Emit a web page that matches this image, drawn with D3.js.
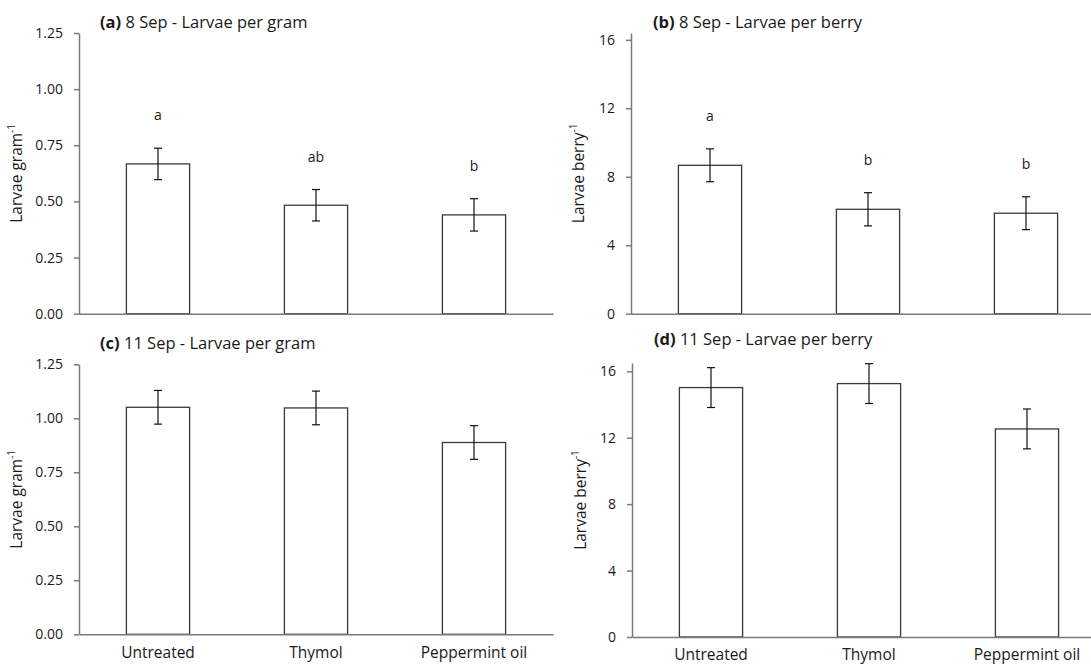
<!DOCTYPE html>
<html>
<head>
<meta charset="utf-8">
<script src="https://cdn.jsdelivr.net/npm/d3@7"></script>
<style>
  body { margin: 0; background: #fff; }
  text { font-family: "Open Sans", "Noto Sans", sans-serif; fill: #1a1a1a; }
</style>
</head>
<body>
<svg id="chart" width="1091" height="667"></svg>
<script>
const treatments = ['Untreated', 'Thymol', 'Peppermint oil'];

const gramTicks = [0, 0.25, 0.5, 0.75, 1.0, 1.25];
const berryTicks = [0, 4, 8, 12, 16];

// means and standard errors
const gram8Sep = [0.667, 0.483, 0.44];
const gram8SepSE = [0.07, 0.07, 0.072];
const berry8Sep = [8.67, 6.1, 5.87];
const berry8SepSE = [0.96, 0.97, 0.96];
const gram11Sep = [1.051, 1.048, 0.888];
const gram11SepSE = [0.078, 0.078, 0.078];
const berry11Sep = [15.02, 15.26, 12.53];
const berry11SepSE = [1.2, 1.2, 1.2];

const letters8SepGram = ['a', 'ab', 'b'];
const letters8SepBerry = ['a', 'b', 'b'];

const svg = d3.select('#chart');

function drawPanel(p) {
  const g = svg.append('g');

  const x = d3.scaleBand()
      .domain(treatments)
      .range([p.left, p.left + 474])
      .paddingInner(0.6)
      .paddingOuter(0.3);

  const y = d3.scaleLinear()
      .domain([0, p.max])
      .range([p.bottom, p.top]);

  // bars
  g.selectAll('rect.bar')
      .data(p.values)
      .join('rect')
      .attr('class', 'bar')
      .attr('x', (d, i) => x(treatments[i]))
      .attr('y', d => y(d))
      .attr('width', x.bandwidth())
      .attr('height', d => y(0) - y(d))
      .style('fill', 'white')
      .style('stroke', '#3a3a3a')
      .style('stroke-width', '1.3px');

  // error bars
  const cx = i => x(treatments[i]) + x.bandwidth() / 2;
  p.values.forEach((v, i) => {
      const se = p.se[i];
      g.append('line')
          .attr('x1', cx(i)).attr('x2', cx(i))
          .attr('y1', y(v + se)).attr('y2', y(v - se))
          .attr('stroke', '#111').attr('stroke-width', 1.2);
      [v + se, v - se].forEach(e => {
          g.append('line')
              .attr('x1', cx(i) - 4).attr('x2', cx(i) + 4)
              .attr('y1', y(e)).attr('y2', y(e))
              .attr('stroke', '#111').attr('stroke-width', 1.2);
      });
      if (p.letters) {
          g.append('text')
              .attr('x', cx(i))
              .attr('y', y(v + se) - 28)
              .attr('text-anchor', 'middle')
              .style('font-size', '14px')
              .text(p.letters[i]);
      }
  });

  // y axis
  const yAxis = g.append('g')
      .attr('transform', `translate(${p.left},0)`)
      .call(d3.axisLeft(y)
          .tickValues(p.ticks)
          .tickSize(5)
          .tickSizeOuter(0)
          .tickPadding(11)
          .tickFormat(p.format));
  yAxis.select('.domain').attr('stroke', '#7a7a7a').attr('stroke-width', 1.5);
  yAxis.selectAll('.tick line').attr('stroke', '#7a7a7a').attr('stroke-width', 1.5);
  yAxis.selectAll('.tick text')
      .style('font-family', '"Open Sans", sans-serif')
      .style('font-size', '14px')
      .attr('fill', '#1a1a1a');

  // x axis
  const xAxis = g.append('g')
      .attr('transform', `translate(0,${y(0)})`)
      .call(d3.axisBottom(x)
          .tickSize(0)
          .tickSizeOuter(0)
          .tickPadding(p.xPad || 14)
          .tickFormat(d => (p.xLabels ? d : '')));
  xAxis.select('.domain').attr('stroke', '#7a7a7a').attr('stroke-width', 1.5);
  xAxis.selectAll('.tick text')
      .style('font-family', '"Open Sans", sans-serif')
      .style('font-size', '15.5px')
      .attr('fill', '#1a1a1a');

  // y label
  const lab = g.append('text')
      .attr('transform', `translate(${p.labelX},${(p.top + p.bottom) / 2}) rotate(-90)`)
      .attr('text-anchor', 'middle')
      .style('font-size', '15.5px');
  lab.append('tspan').text(p.unit);
  lab.append('tspan').attr('dy', -7).style('font-size', '10px').text('-1');

  // title
  const t = g.append('text')
      .attr('x', p.titleX)
      .attr('y', p.titleY)
      .style('font-size', '16.5px');
  t.append('tspan').style('font-weight', 'bold').text(p.tag);
  t.append('tspan').text(' ' + p.title);
}

drawPanel({
  left: 79, top: 33, bottom: 313.7, max: 1.25,
  values: gram8Sep, se: gram8SepSE, letters: letters8SepGram,
  ticks: gramTicks, format: d3.format('.2f'),
  unit: 'Larvae gram', labelX: 22,
  tag: '(a)', title: '8 Sep - Larvae per gram', titleX: 100, titleY: 28
});
drawPanel({
  left: 631, top: 33, bottom: 313.7, max: 16.4,
  values: berry8Sep, se: berry8SepSE, letters: letters8SepBerry,
  ticks: berryTicks, format: d3.format('d'),
  unit: 'Larvae berry', labelX: 584,
  tag: '(b)', title: '8 Sep - Larvae per berry', titleX: 653, titleY: 28
});
drawPanel({
  left: 79, top: 364.3, bottom: 634.3, max: 1.25,
  values: gram11Sep, se: gram11SepSE,
  ticks: gramTicks, format: d3.format('.2f'), xLabels: true, xPad: 13,
  unit: 'Larvae gram', labelX: 22,
  tag: '(c)', title: '11 Sep - Larvae per gram', titleX: 100, titleY: 349
});
drawPanel({
  left: 632, top: 363, bottom: 637, max: 16.5,
  values: berry11Sep, se: berry11SepSE,
  ticks: berryTicks, format: d3.format('d'), xLabels: true, xPad: 12,
  unit: 'Larvae berry', labelX: 586,
  tag: '(d)', title: '11 Sep - Larvae per berry', titleX: 654, titleY: 345
});
</script>
</body>
</html>
